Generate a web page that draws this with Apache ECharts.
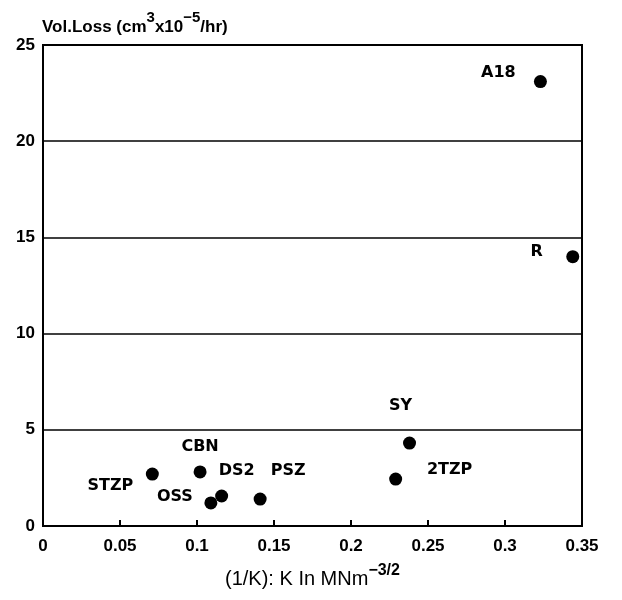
<!DOCTYPE html>
<html>
<head>
<meta charset="utf-8">
<script src="https://cdn.jsdelivr.net/npm/echarts@6/dist/echarts.min.js"></script>
<style>
  html, body { margin: 0; padding: 0; background: #fff; }
  #chart { width: 622px; height: 600px; }
</style>
</head>
<body>
<div id="chart"></div>
<script>
// Wear volume loss against inverse fracture toughness
const materials = ['STZP', 'CBN', 'OSS', 'DS2', 'PSZ', 'SY', '2TZP', 'A18', 'R'];
const invK      = [0.071, 0.102, 0.109, 0.116, 0.141, 0.238, 0.229, 0.323, 0.344];
const volLoss   = [2.70, 2.81, 1.20, 1.56, 1.40, 4.31, 2.44, 23.1, 14.0];
const xTicks = [0, 0.05, 0.1, 0.15, 0.2, 0.25, 0.3, 0.35];
const yTicks = [0, 5, 10, 15, 20, 25];

const DOT = 13;
// label placement around each dot (pixels, relative to the dot centre)
const labelOffsets = {
  'STZP': [-42, 12], 'CBN': [0, -25], 'OSS': [-36, -6], 'DS2': [15, -25],
  'PSZ': [28, -28], 'SY': [-9, -37], '2TZP': [54, -9], 'A18': [-42, -9], 'R': [-36, -5]
};

const points = materials.map((m, i) => ({
  value: [invK[i], volLoss[i]],
  name: m,
  label: {
    position: [DOT / 2 + labelOffsets[m][0], DOT / 2 + labelOffsets[m][1]],
    align: 'center',
    verticalAlign: 'middle'
  }
}));

const chart = echarts.init(document.getElementById('chart'), null, { renderer: 'canvas' });
const font = 'Liberation Sans, Arial, Helvetica, sans-serif';

chart.setOption({
  backgroundColor: '#fff',
  animation: false,
  grid: { left: 43, right: 40, top: 45, bottom: 74, show: true, borderColor: '#000', borderWidth: 2 },
  title: {
    text: '{t|Vol.Loss (cm}{s|3}{t|x10}{s|−5}{t|/hr)}',
    left: 42, top: 10, padding: 0,
    textStyle: {
      rich: {
        t: { fontFamily: font, fontSize: 17, color: '#000', fontWeight: 'bold', verticalAlign: 'bottom', lineHeight: 26 },
        s: { fontFamily: font, fontSize: 15, color: '#000', fontWeight: 'bold', verticalAlign: 'top', lineHeight: 26, padding: [0, 0, 10, 0] }
      }
    }
  },
  xAxis: {
    type: 'value',
    min: xTicks[0], max: xTicks[xTicks.length - 1], interval: 0.05,
    name: '{t|(1/K): K In MNm}{s|−3/2}',
    nameLocation: 'middle', nameGap: 37,
    nameTextStyle: {
      rich: {
        t: { fontFamily: font, fontSize: 20, color: '#000', verticalAlign: 'bottom', lineHeight: 26 },
        s: { fontFamily: font, fontSize: 16, color: '#000', fontWeight: 'bold', verticalAlign: 'top', lineHeight: 26, padding: [0, 0, 12, 0] }
      }
    },
    axisLine: { onZero: false, lineStyle: { color: '#000', width: 2 } },
    axisTick: { show: true, inside: true, length: 6, lineStyle: { color: '#000', width: 2 } },
    splitLine: { show: false },
    axisLabel: {
      color: '#000', fontFamily: font, fontSize: 17, fontWeight: 'bold', margin: 12,
      formatter: v => String(parseFloat(v.toFixed(2)))
    }
  },
  yAxis: {
    type: 'value',
    min: yTicks[0], max: yTicks[yTicks.length - 1], interval: 5,
    axisLine: { onZero: false, lineStyle: { color: '#000', width: 2 } },
    axisTick: { show: false },
    splitLine: { show: true, lineStyle: { color: '#000', width: 1.5 } },
    axisLabel: { color: '#000', fontFamily: font, fontSize: 17, fontWeight: 'bold', margin: 8 }
  },
  series: [{
    type: 'scatter',
    data: points,
    symbol: 'circle',
    symbolSize: DOT,
    itemStyle: { color: '#000', opacity: 1 },
    label: {
      show: true,
      formatter: p => p.name,
      color: '#000',
      fontFamily: 'DejaVu Sans, sans-serif',
      fontSize: 16,
      fontWeight: 'bold'
    },
    labelLayout: { hideOverlap: false }
  }]
});
</script>
</body>
</html>
